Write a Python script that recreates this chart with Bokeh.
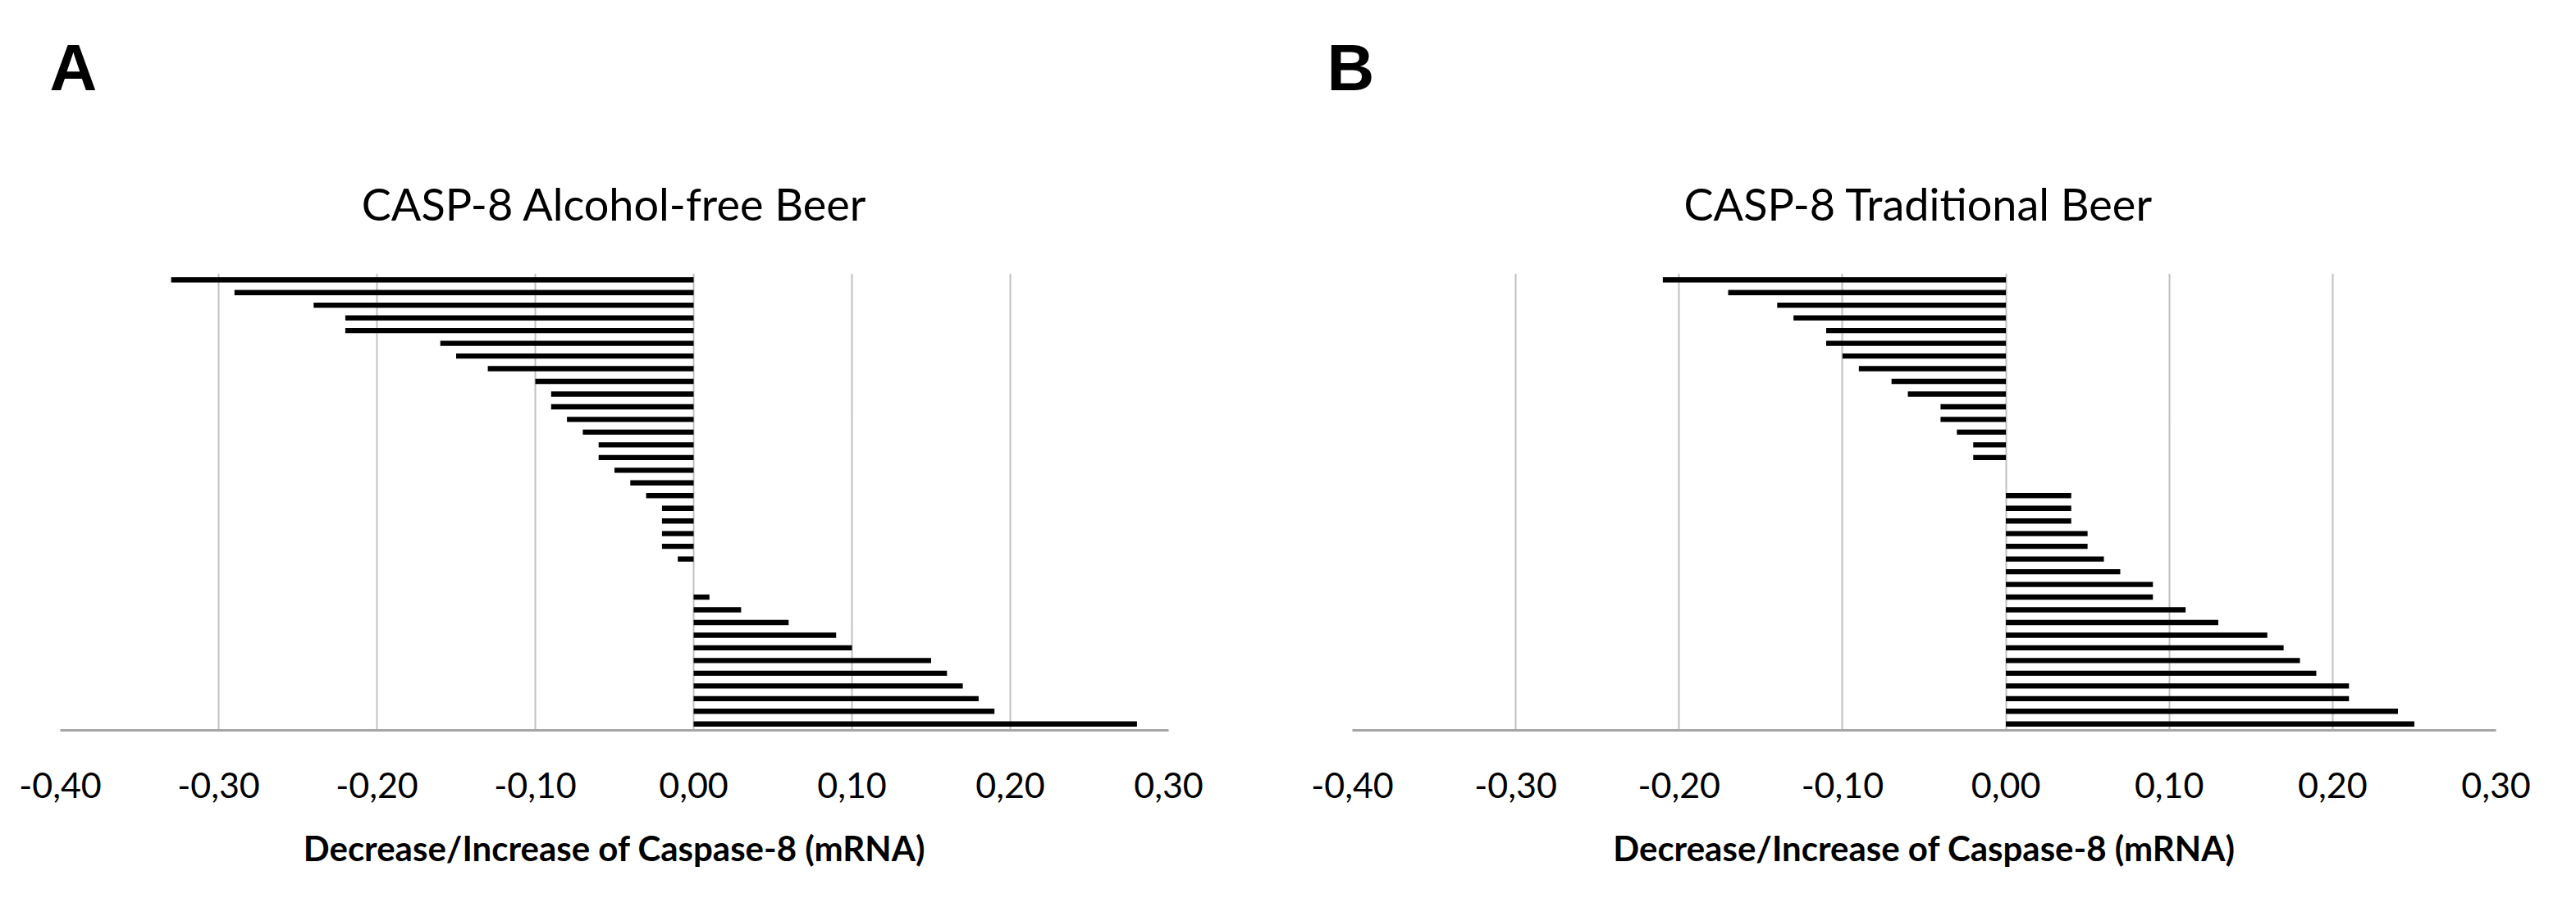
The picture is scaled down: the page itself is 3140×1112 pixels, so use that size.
from bokeh.plotting import figure
from bokeh.layouts import row
from bokeh.models import Range1d, FixedTicker, CustomJSTickFormatter, Title
from bokeh.embed import file_html
from bokeh.resources import INLINE

# ---- data ----
alcohol_free = [-0.33, -0.29, -0.24, -0.22, -0.22, -0.16, -0.15, -0.13, -0.10,
                -0.09, -0.09, -0.08, -0.07, -0.06, -0.06, -0.05, -0.04, -0.03,
                -0.02, -0.02, -0.02, -0.02, -0.01, 0.00, 0.00, 0.01, 0.03,
                0.06, 0.09, 0.10, 0.15, 0.16, 0.17, 0.18, 0.19, 0.28]
traditional = [-0.21, -0.17, -0.14, -0.13, -0.11, -0.11, -0.10, -0.09, -0.07,
               -0.06, -0.04, -0.04, -0.03, -0.02, -0.02, 0.00, 0.00, 0.04,
               0.04, 0.04, 0.05, 0.05, 0.06, 0.07, 0.09, 0.09, 0.11, 0.13,
               0.16, 0.17, 0.18, 0.19, 0.21, 0.21, 0.24, 0.25]
x_ticks = [-0.40, -0.30, -0.20, -0.10, 0.00, 0.10, 0.20, 0.30]
titles = ["CASP-8 Alcohol-free Beer", "CASP-8 Traditional  Beer"]
letters = ["A", "B"]
x_label = "Decrease/Increase of Caspase-8 (mRNA)"

fmt_code = """
if (Math.abs(tick) < 1e-9) { return "0,00"; }
return tick.toFixed(2).replace('.', ',');
"""


def make_panel(values, title, letter, frame_w, b_left, b_right, letter_offset):
    n = len(values)
    p = figure(output_backend="svg", toolbar_location=None,
               frame_width=frame_w, frame_height=557,
               min_border_left=b_left, min_border_right=b_right,
               min_border_top=330, min_border_bottom=209,
               x_range=Range1d(x_ticks[0], x_ticks[-1]),
               y_range=Range1d(n - 0.5, -0.5))
    p.background_fill_color = "white"
    p.border_fill_color = "white"
    p.outline_line_color = None

    p.hbar(y=list(range(n)), left=0, right=values, height=0.41,
           fill_color="black", line_color=None)

    p.yaxis.visible = False
    p.ygrid.visible = False
    p.xgrid.grid_line_color = "#c0c0c0"
    p.xgrid.grid_line_width = 2

    ax = p.xaxis[0]
    ax.ticker = FixedTicker(ticks=x_ticks)
    ax.formatter = CustomJSTickFormatter(code=fmt_code)
    ax.major_tick_line_color = None
    ax.minor_tick_line_color = None
    ax.major_tick_out = 0
    ax.major_tick_in = 0
    ax.axis_line_color = "#a6a6a6"
    ax.axis_line_width = 3
    ax.major_label_standoff = 51
    ax.major_label_text_font = "Lato"
    ax.major_label_text_font_size = "43px"
    ax.major_label_text_color = "black"
    ax.axis_label = x_label
    ax.axis_label_text_font = "Lato"
    ax.axis_label_text_font_style = "bold"
    ax.axis_label_text_font_size = "42px"
    ax.axis_label_text_color = "black"
    ax.axis_label_standoff = 33

    # outer title: panel letter
    p.title.text = letter
    p.title.align = "left"
    p.title.offset = letter_offset
    p.title.text_font = "Liberation Sans"
    p.title.text_font_style = "bold"
    p.title.text_font_size = "80px"
    p.title.text_color = "black"
    p.title.standoff = 70

    # inner title: chart title
    t = Title(text=title, align="center",
              text_font="Lato", text_font_style="normal",
              text_font_size="54px", text_color="black", standoff=105)
    p.add_layout(t, "above")
    return p


pa = make_panel(alcohol_free, titles[0], letters[0], 1351, 73, 138, -13)
pb = make_panel(traditional, titles[1], letters[1], 1394, 86, 82, -31)

layout = row(pa, pb)
open("out.html", "w").write(file_html(layout, INLINE))
